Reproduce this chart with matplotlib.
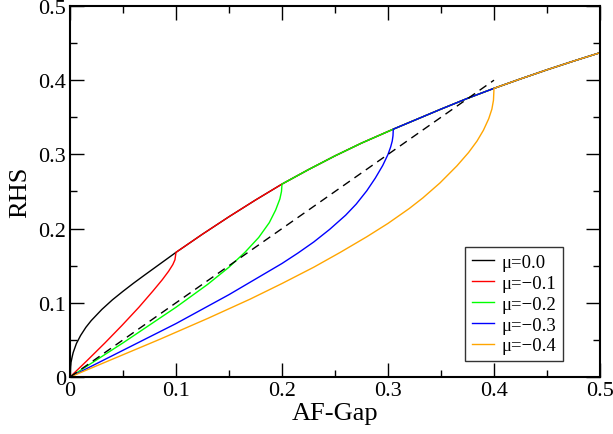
import numpy as np
import matplotlib
matplotlib.use('Agg')
import matplotlib.pyplot as plt
from matplotlib.ticker import MultipleLocator, FuncFormatter

# upper envelope (mu = 0 curve)
env_x = np.array([0.0, 0.0005, 0.001, 0.002, 0.003, 0.006, 0.01, 0.015, 0.02, 0.03,
                  0.04, 0.05, 0.06, 0.07, 0.085, 0.1, 0.125, 0.15, 0.175, 0.2,
                  0.225, 0.25, 0.275, 0.305, 0.35, 0.375, 0.4, 0.425, 0.45, 0.475, 0.5])
env_y = np.array([0.0, 0.014, 0.02, 0.027, 0.033, 0.045, 0.056, 0.067, 0.076, 0.091,
                  0.104, 0.1155, 0.1265, 0.137, 0.1525, 0.168, 0.1925, 0.216, 0.2385, 0.260,
                  0.2795, 0.298, 0.3152, 0.334, 0.361, 0.3755, 0.389, 0.4017, 0.414, 0.4257, 0.437])

# lower branches for the negative mu values
red_x = np.array([0.0, 0.016, 0.033, 0.049, 0.065, 0.078, 0.087, 0.093, 0.097, 0.099, 0.1])
red_y = np.array([0.0, 0.022, 0.046, 0.0695, 0.094, 0.1155, 0.131, 0.1425, 0.1515, 0.158, 0.168])

green_x = np.array([0.0, 0.05, 0.1, 0.13, 0.15, 0.165, 0.178, 0.188, 0.194, 0.198, 0.1995, 0.2])
green_y = np.array([0.0, 0.046, 0.094, 0.125, 0.148, 0.168, 0.188, 0.208, 0.225, 0.24, 0.25, 0.26])

blue_x = np.array([0.0, 0.05, 0.1, 0.15, 0.2, 0.215, 0.23, 0.245, 0.26, 0.27, 0.28, 0.288,
                   0.295, 0.3, 0.3025, 0.304, 0.3047, 0.305])
blue_y = np.array([0.0, 0.036, 0.072, 0.111, 0.153, 0.167, 0.182, 0.199, 0.218, 0.233, 0.251, 0.268,
                   0.285, 0.3, 0.31, 0.318, 0.325, 0.334])

orange_x = np.array([0.0, 0.04, 0.085, 0.13, 0.17, 0.2, 0.23, 0.255, 0.28, 0.3, 0.32, 0.333,
                     0.349, 0.365, 0.376, 0.384, 0.39, 0.395, 0.398, 0.3995, 0.4])
orange_y = np.array([0.0, 0.024, 0.051, 0.079, 0.105, 0.126, 0.148, 0.168, 0.189, 0.207, 0.227, 0.2415,
                     0.2615, 0.2845, 0.3025, 0.318, 0.3325, 0.348, 0.361, 0.373, 0.389])

# dashed diagonal
diag_x = [0.0, 0.4]
diag_y = [0.0, 0.4]

labels = ['μ=0.0', 'μ=−0.1', 'μ=−0.2', 'μ=−0.3', 'μ=−0.4']
colors = ['black', '#ff0000', '#00ff00', '#0000ff', '#ffa500']

plt.rcParams['font.family'] = ['Liberation Serif', 'DejaVu Serif']

fig = plt.figure(figsize=(6.13, 4.35), dpi=100)
ax = fig.add_axes([0.1142, 0.131, 0.8646, 0.853])

ax.plot(env_x, env_y, color=colors[0], lw=1.0, label=labels[0])
branches = [(red_x, red_y), (green_x, green_y), (blue_x, blue_y), (orange_x, orange_y)]
for (bx, by), c, lab in zip(branches, colors[1:], labels[1:]):
    keep = env_x > bx[-1] + 1e-9
    xx = np.concatenate([bx, env_x[keep]])
    yy = np.concatenate([by, env_y[keep]])
    ax.plot(xx, yy, color=c, lw=1.0, label=lab)

ax.plot(diag_x, diag_y, color='black', lw=1.0, ls=(0, (6, 4)))

ax.set_xlim(0, 0.5)
ax.set_ylim(0, 0.5)
ax.xaxis.set_major_locator(MultipleLocator(0.1))
ax.xaxis.set_minor_locator(MultipleLocator(0.05))
ax.yaxis.set_major_locator(MultipleLocator(0.1))
ax.yaxis.set_minor_locator(MultipleLocator(0.05))
fmt = FuncFormatter(lambda v, p: '0' if abs(v) < 1e-9 else '%.1f' % v)
ax.xaxis.set_major_formatter(fmt)
ax.yaxis.set_major_formatter(fmt)
ax.tick_params(which='both', direction='in', top=True, right=True, width=1.0, labelsize=16, pad=3)
ax.tick_params(which='major', length=10)
ax.tick_params(which='minor', length=5)
for s in ax.spines.values():
    s.set_linewidth(1.5)

ax.set_xlabel('AF-Gap', fontsize=19, labelpad=1)
ax.set_ylabel('RHS', fontsize=19, labelpad=5)

leg = ax.legend(loc='lower right', bbox_to_anchor=(0.93, 0.043), borderaxespad=0,
                fontsize=13.5, frameon=True, fancybox=False, edgecolor='black',
                handlelength=1.2, handletextpad=0.4, labelspacing=0.2, borderpad=0.35)
leg.get_frame().set_linewidth(1.0)

fig.savefig('out.png', dpi=100)
